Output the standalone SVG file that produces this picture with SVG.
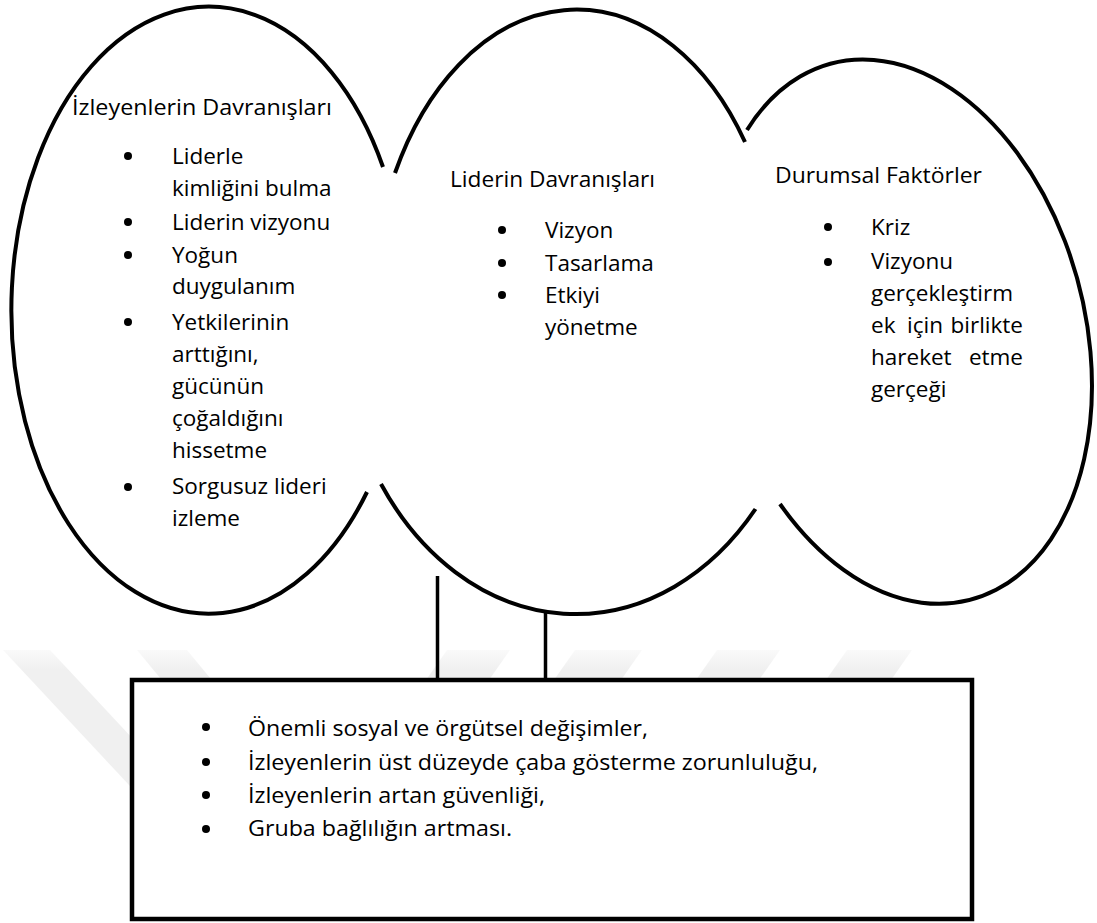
<svg xmlns="http://www.w3.org/2000/svg" width="1097" height="923" viewBox="0 0 1097 923">
  <defs>
    <linearGradient id="wm" x1="0" y1="640" x2="0" y2="670" gradientUnits="userSpaceOnUse">
      <stop offset="0" stop-color="#ffffff"/>
      <stop offset="1" stop-color="#f0f0f0"/>
    </linearGradient>
  </defs>
  <style>
    .shape { fill: none; stroke: #000; stroke-width: 4; }
    .t { font-family: "Open Sans", "Liberation Sans", sans-serif; font-size: 22.5px; fill: #000; }
    .tb { font-family: "Open Sans", "Liberation Sans", sans-serif; font-size: 21.5px; fill: #000; }
    .b { fill: #000; }
    .wm { fill: url(#wm); }
  </style>
  <rect width="1097" height="923" fill="#ffffff"/>
  <g id="watermark">
    <polygon class="wm" points="3,650 50,650 190,800 143,800"/>
    <polygon class="wm" points="137,650 187,650 220,690 170,690"/>
    <polygon class="wm" points="447,650 510,650 482,690 419,690"/>
    <polygon class="wm" points="575,650 642,650 614,690 547,690"/>
    <polygon class="wm" points="717,650 780,650 752,690 689,690"/>
    <polygon class="wm" points="847,650 912,650 884,690 819,690"/>
  </g>
  <g id="connectors">
    <line x1="437.5" y1="576" x2="437.5" y2="680" stroke="#000" stroke-width="3.5"/>
    <line x1="545.5" y1="613" x2="545.5" y2="680" stroke="#000" stroke-width="3.5"/>
  </g>
  <g id="node-followers">
    <path class="shape" d="M 383,167 A 197.5 303.5 0 1 0 367,492"/>
    <text class="t" x="72" y="115" textLength="260" lengthAdjust="spacingAndGlyphs">İzleyenlerin Davranışları</text>
    <circle class="b" cx="128" cy="156" r="4"/>
    <text class="t" x="172" y="164">Liderle</text>
    <text class="t" x="172" y="196">kimliğini bulma</text>
    <circle class="b" cx="128" cy="222" r="4"/>
    <text class="t" x="172" y="230">Liderin vizyonu</text>
    <circle class="b" cx="128" cy="255" r="4"/>
    <text class="t" x="172" y="263">Yoğun</text>
    <text class="t" x="172" y="294">duygulanım</text>
    <circle class="b" cx="128" cy="322" r="4"/>
    <text class="t" x="172" y="330">Yetkilerinin</text>
    <text class="t" x="172" y="362">arttığını,</text>
    <text class="t" x="172" y="394">gücünün</text>
    <text class="t" x="172" y="426">çoğaldığını</text>
    <text class="t" x="172" y="458">hissetme</text>
    <circle class="b" cx="128" cy="487" r="4"/>
    <text class="t" x="172" y="494">Sorgusuz lideri</text>
    <text class="t" x="172" y="526">izleme</text>
  </g>
  <g id="node-leader">
    <path class="shape" d="M 395,173 A 204 302 0 0 1 745,142"/>
    <path class="shape" d="M 381,484 A 237 302 0 0 0 755.5,509"/>
    <text class="t" x="450" y="187" textLength="205" lengthAdjust="spacingAndGlyphs">Liderin Davranışları</text>
    <circle class="b" cx="502" cy="230" r="4"/>
    <text class="t" x="545" y="238">Vizyon</text>
    <circle class="b" cx="502" cy="263" r="4"/>
    <text class="t" x="545" y="271">Tasarlama</text>
    <circle class="b" cx="502" cy="295" r="4"/>
    <text class="t" x="545" y="303">Etkiyi</text>
    <text class="t" x="545" y="335">yönetme</text>
  </g>
  <g id="node-situational">
    <path class="shape" d="M 747,130 A 184 277 -14.4 1 1 780,504"/>
    <text class="t" x="775" y="183" textLength="207" lengthAdjust="spacingAndGlyphs">Durumsal Faktörler</text>
    <circle class="b" cx="828" cy="227" r="4"/>
    <text class="t" x="871" y="235">Kriz</text>
    <circle class="b" cx="828" cy="262" r="4"/>
    <text class="t" x="871" y="269">Vizyonu</text>
    <text class="t" x="871" y="301">gerçekleştirm</text>
    <text class="t" y="333"><tspan x="871">ek</tspan><tspan x="907">için</tspan><tspan x="1023" text-anchor="end">birlikte</tspan></text>
    <text class="t" y="365"><tspan x="871">hareket</tspan><tspan x="1023" text-anchor="end">etme</tspan></text>
    <text class="t" x="871" y="397">gerçeği</text>
  </g>
  <g id="node-outcomes">
    <rect x="132" y="680" width="840" height="239" fill="#ffffff" stroke="#000" stroke-width="4.5"/>
    <circle class="b" cx="206" cy="727" r="4"/>
    <text class="tb" x="248" y="736" textLength="400" lengthAdjust="spacingAndGlyphs">Önemli sosyal ve örgütsel değişimler,</text>
    <circle class="b" cx="206" cy="762" r="4"/>
    <text class="tb" x="248" y="770" textLength="570" lengthAdjust="spacingAndGlyphs">İzleyenlerin üst düzeyde çaba gösterme zorunluluğu,</text>
    <circle class="b" cx="206" cy="795" r="4"/>
    <text class="tb" x="248" y="803" textLength="297" lengthAdjust="spacingAndGlyphs">İzleyenlerin artan güvenliği,</text>
    <circle class="b" cx="206" cy="829" r="4"/>
    <text class="tb" x="248" y="836" textLength="264" lengthAdjust="spacingAndGlyphs">Gruba bağlılığın artması.</text>
  </g>
</svg>
